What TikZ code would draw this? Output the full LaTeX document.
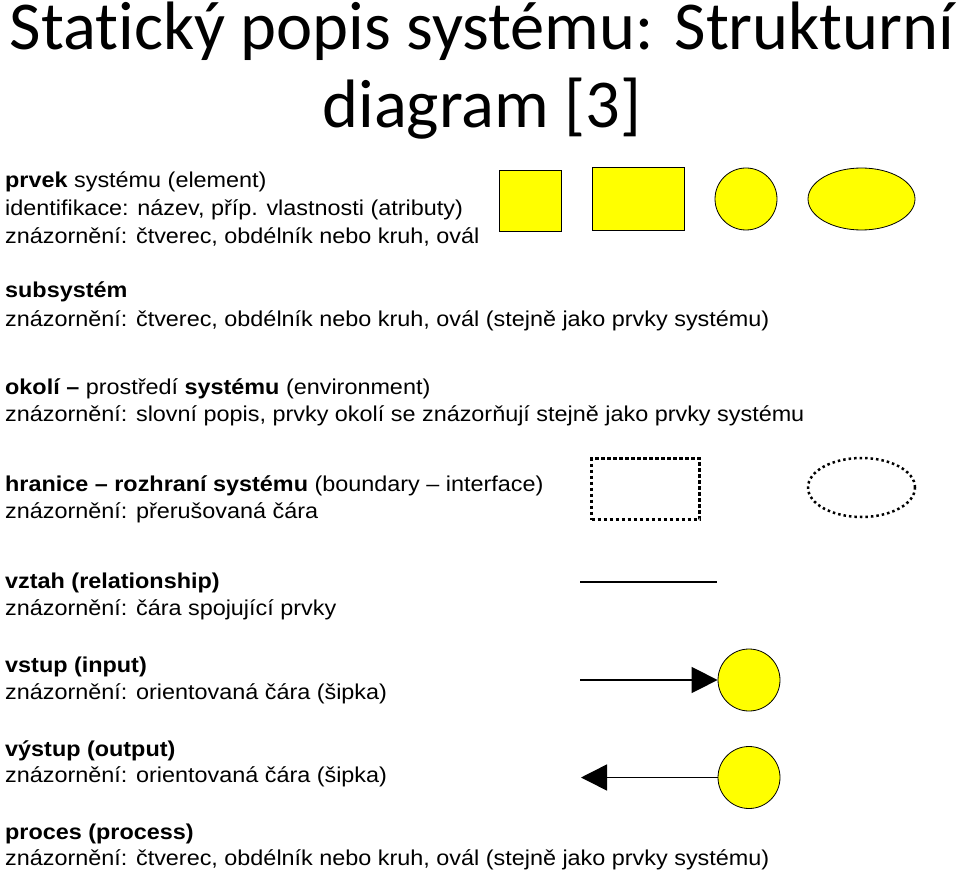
\documentclass[tikz,border=0pt]{standalone}
\usepackage{fontspec}
\setmainfont{Liberation Sans}
\newfontfamily\titlefont[Ligatures=NoCommon]{Carlito}
\usetikzlibrary{arrows.meta,shapes.geometric}
\definecolor{elemyellow}{RGB}{255,255,0}
\newcommand\stretchtxt[1]{\scalebox{1.088}[1]{#1}}
\tikzset{
  elem/.style={draw=black,line width=0.8pt,fill=elemyellow,inner sep=0pt},
  txt/.style={anchor=base west,inner sep=0pt,font=\fontsize{21.5}{25}\selectfont},
  ttl/.style={anchor=base,inner sep=0pt,font=\titlefont\fontsize{68.5}{78}\selectfont},
  bound/.style={draw=black,dash pattern=on 3.5pt off 2.5pt,inner sep=0pt},
  conn/.style={line width=1.5pt},
  tip/.style={-{Triangle[length=26pt,width=26pt]}},
}
\begin{document}
\begin{tikzpicture}[x=1pt,y=-1pt]
\useasboundingbox (0,0) rectangle (960,874);
% title
\node[ttl] (title1) at (482,50) {Statický popis systému: Strukturní};
\node[ttl] (title2) at (482,128) {diagram [3]};
% element
\node[txt] (prvekA) at (5,188) {\stretchtxt{\textbf{prvek} systému (element)}};
\node[txt] (prvekB) at (5,216) {\stretchtxt{identifikace: název, příp. vlastnosti (atributy)}};
\node[txt] (prvekC) at (5,244) {\stretchtxt{znázornění: čtverec, obdélník nebo kruh, ovál}};
\node[elem,minimum width=62,minimum height=61] (sq) at (530,200.5) {};
\node[elem,minimum width=92,minimum height=63] (rect) at (638,198.5) {};
\node[elem,circle,minimum size=62] (circ) at (746,199) {};
\node[elem,ellipse,minimum width=107,minimum height=62] (oval) at (861.5,199) {};
% subsystem
\node[txt] (subA) at (5,298) {\stretchtxt{\textbf{subsystém}}};
\node[txt] (subB) at (5,326) {\stretchtxt{znázornění: čtverec, obdélník nebo kruh, ovál (stejně jako prvky systému)}};
% environment
\node[txt] (envA) at (5,394) {\stretchtxt{\textbf{okolí –} prostředí \textbf{systému} (environment)}};
\node[txt] (envB) at (5,421) {\stretchtxt{znázornění: slovní popis, prvky okolí se znázorňují stejně jako prvky systému}};
% boundary
\node[txt] (bndA) at (5,491) {\stretchtxt{\textbf{hranice – rozhraní systému} (boundary – interface)}};
\node[txt] (bndB) at (5,518) {\stretchtxt{znázornění: přerušovaná čára}};
\node[bound,line width=3pt,minimum width=108,minimum height=61] (bndRect) at (645.5,489) {};
\node[bound,ellipse,line width=2.5pt,dash pattern=on 2.5pt off 3pt,minimum width=107,minimum height=59] (bndOval) at (861.5,487.5) {};
% relationship
\node[txt] (relA) at (5,588) {\stretchtxt{\textbf{vztah (relationship)}}};
\node[txt] (relB) at (5,615) {\stretchtxt{znázornění: čára spojující prvky}};
\coordinate (relL) at (580,582);
\coordinate (relR) at (717,582);
\draw[conn] (relL) -- (relR);
% input
\node[txt] (inA) at (5,672) {\stretchtxt{\textbf{vstup (input)}}};
\node[txt] (inB) at (5,699) {\stretchtxt{znázornění: orientovaná čára (šipka)}};
\node[elem,circle,minimum size=62] (inCirc) at (749,680) {};
\coordinate (inL) at (580,680);
\draw[conn,tip] (inL) -- (inCirc);
% output
\node[txt] (outA) at (5,756) {\stretchtxt{\textbf{výstup (output)}}};
\node[txt] (outB) at (5,782) {\stretchtxt{znázornění: orientovaná čára (šipka)}};
\node[elem,circle,minimum size=62] (outCirc) at (749,777.5) {};
\coordinate (outL) at (581,777.5);
\draw[conn,tip] (outCirc) -- (outL);
% process
\node[txt] (procA) at (5,839) {\stretchtxt{\textbf{proces (process)}}};
\node[txt] (procB) at (5,865) {\stretchtxt{znázornění: čtverec, obdélník nebo kruh, ovál (stejně jako prvky systému)}};
\end{tikzpicture}
\end{document}
